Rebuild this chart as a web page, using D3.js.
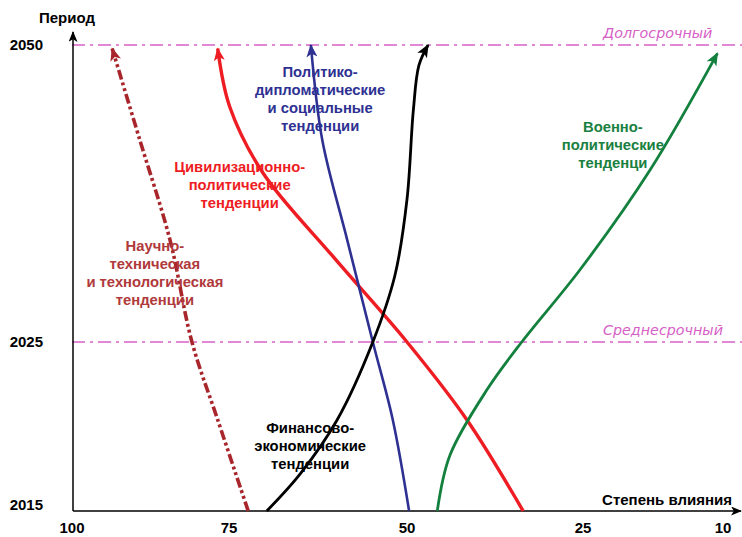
<!DOCTYPE html>
<html><head><meta charset="utf-8">
<script src="https://cdn.jsdelivr.net/npm/d3@7"></script>
<style>body{margin:0;background:#fff}svg{display:block}text{font-family:"Liberation Sans",Arial,sans-serif}</style>
</head><body><svg id="c" width="742" height="537"></svg>
<script>
// ---- data ----
const xTicks = [100, 75, 50, 25, 10];
const yTicks = [2015, 2025, 2050];
const horizonLabels = ["Среднесрочный", "Долгосрочный"];
const horizonYears = [2025, 2050];

// [influence, year]
const sciTech = [[72.3,2015],[76.8,2020.4],[80.9,2025],[84.4,2033.6],[89.2,2042.0],[93.6,2049.7]];
const civPol  = [[33.5,2015],[41.5,2020.4],[50.0,2025],[60.4,2032.2],[70.2,2039.2],[74.9,2044.8],[76.8,2049.7]];
const polDip  = [[49.7,2015],[52.0,2020.4],[54.8,2025],[58.4,2033.6],[61.9,2042.0],[63.5,2050]];
const finEcon = [[69.7,2015],[65.0,2017.2],[59.8,2020.4],[54.8,2025],[51.7,2030.6],[50.0,2037.0],[49.1,2044.5],[48.3,2048.3],[47.0,2050]];
const milPol  = [[45.7,2015],[43.9,2018.3],[38.6,2022.2],[33.7,2025],[25.4,2031.1],[17.8,2039.5],[10.6,2049.3]];

const seriesNames = ["sci","civ","pol","fin","mil"];
const seriesData = [sciTech, civPol, polDip, finEcon, milPol];
const seriesLabels = [
  ["Научно-","техническая","и технологическая","тенденции"],
  ["Цивилизационно-","политические","тенденции"],
  ["Политико-","дипломатические","и социальные","тенденции"],
  ["Финансово-","экономические","тенденции"],
  ["Военно-","политические","тенденци"]
];
// label anchors (influence, year) of the first line's baseline
const labelAnchors = [[86.8,2032.7],[73.5,2039.3],[62.2,2047.3],[63.6,2019.6],[21.8,2042.7]];

// ---- styles ----
const colors = ["#a8262b","#ee1d23","#2e3192","#000000","#13803e"];
const labelColors = ["#b0393b","#ee1d23","#2e3192","#000000","#1a8040"];
const widths = [3.6,3.4,2.6,2.8,2.8];
const dashes = ["10,3,3,3,3,3",null,null,null,null];
const pink = "#d760c6";

const svg = d3.select("#c");
const x = d3.scaleLinear().domain(xTicks).range([72,229,407,583,723]);
const y = d3.scaleLinear().domain(yTicks).range([511,342,45]);

const defs = svg.append("defs");
function marker(id, col, w, l){
  defs.append("marker").attr("id",id).attr("viewBox","0 0 12 10")
    .attr("refX",11).attr("refY",5).attr("markerUnits","userSpaceOnUse")
    .attr("markerWidth",l).attr("markerHeight",w).attr("orient","auto")
    .append("path").attr("d","M0,0 L12,5 L0,10 L3,5 Z").attr("fill",col);
}
seriesNames.forEach((n,i)=>marker("m"+n, colors[i], 11, 14));
marker("axis","#000",9,11);

// horizon lines
horizonYears.forEach((yr,i)=>{
  svg.append("line").attr("x1",x(100)).attr("x2",742).attr("y1",y(yr)).attr("y2",y(yr))
    .attr("stroke",pink).attr("stroke-width",1.7).attr("stroke-dasharray","13,5,3,5");
  svg.append("text").attr("x",603).attr("y",y(yr)-7).attr("text-anchor","start")
    .attr("fill",pink).attr("font-size",14.3).attr("font-style","oblique").attr("font-weight",200)
    .style("font-family","'DejaVu Sans', sans-serif")
    .text(horizonLabels[i]);
});

// axes
svg.append("line").attr("x1",x(100)+1).attr("y1",y(2015)).attr("x2",x(100)+1).attr("y2",32)
  .attr("stroke","#000").attr("stroke-width",1.5).attr("marker-end","url(#axis)");
svg.append("line").attr("x1",x(100)+1).attr("y1",y(2015)).attr("x2",741).attr("y2",y(2015))
  .attr("stroke","#000").attr("stroke-width",1.5).attr("marker-end","url(#axis)");

svg.selectAll(".xt").data(xTicks).join("text").attr("class","xt")
  .attr("x",d=>x(d)).attr("y",533).attr("text-anchor","middle")
  .attr("font-size",15).attr("font-weight","bold").text(d=>d);
svg.selectAll(".yt").data(yTicks).join("text").attr("class","yt")
  .attr("x",43).attr("y",d=>d===2015?y(d)-1:y(d)+5).attr("text-anchor","end")
  .attr("font-size",15).attr("font-weight","bold").text(d=>d);
svg.append("text").attr("x",39).attr("y",23).attr("font-size",15).attr("font-weight","bold").text("Период");
svg.append("text").attr("x",732).attr("y",505).attr("text-anchor","end").attr("font-size",15).attr("font-weight","bold").text("Степень влияния");

// curves
const line = d3.line().x(d=>x(d[0])).y(d=>y(d[1])).curve(d3.curveCatmullRom.alpha(0.5));
seriesData.forEach((data,i)=>{
  svg.append("path").attr("d",line(data)).attr("fill","none")
    .attr("stroke",colors[i]).attr("stroke-width",widths[i])
    .attr("stroke-dasharray",dashes[i])
    .attr("marker-end","url(#m"+seriesNames[i]+")");
});

// labels
seriesLabels.forEach((lines,i)=>{
  const t = svg.append("text").attr("text-anchor","middle").attr("font-size",14.8)
    .attr("font-weight","bold").attr("fill",labelColors[i]);
  const ax = x(labelAnchors[i][0]), ay = y(labelAnchors[i][1]);
  lines.forEach((s,j)=>{
    t.append("tspan").attr("x",ax).attr("y",ay+j*18).text(s);
  });
});
</script></body></html>
